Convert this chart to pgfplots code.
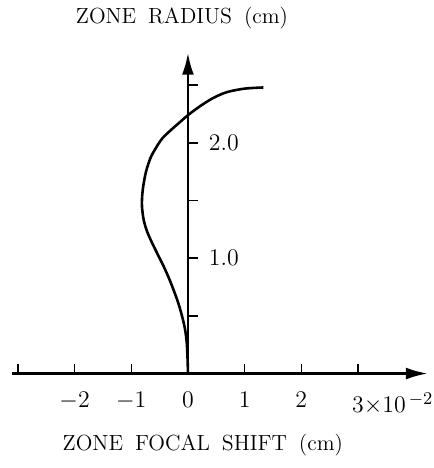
\documentclass[border=0pt]{standalone}
\usepackage{pgfplots}
\pgfplotsset{compat=1.18}
\usetikzlibrary{arrows.meta}
\begin{document}
\begin{tikzpicture}
\begin{axis}[
  x=28.5pt, y=58pt,
  axis lines=middle,
  axis line style={line width=1.2pt, -{Latex[length=11pt,width=6pt]}},
  xmin=-3.1, xmax=4.23, ymin=0, ymax=2.78,
  clip=false,
  tick align=inside,
  major tick length=5pt,
  tick style={black, line width=0.7pt},
  hide obscured x ticks=false,
  xtick={-3,-2,-1,0,1,2,3},
  xticklabels={,$-2$,$-1$,$0$,$1$,$2$,$3\rlap{$\times10^{\,-2}$}$},
  xticklabel style={font=\fontsize{13}{15}\selectfont, yshift=-6pt},
  ytick={0.5,1,1.5,2,2.5},
  yticklabels={,$1.0$,,$2.0$,},
  yticklabel style={font=\fontsize{13}{15}\selectfont, anchor=west, xshift=7pt},
]
\addplot[black, line width=1.3pt, smooth] coordinates {
(0,0) (-0.005,0.10) (-0.02,0.26) (-0.05,0.38) (-0.10,0.49) (-0.17,0.61)
(-0.25,0.72) (-0.33,0.82) (-0.42,0.92) (-0.53,1.03) (-0.63,1.13) (-0.72,1.23)
(-0.78,1.33) (-0.81,1.44) (-0.81,1.52) (-0.79,1.62) (-0.74,1.75) (-0.66,1.87)
(-0.56,1.96) (-0.45,2.04) (-0.28,2.12) (-0.14,2.18) (0,2.24) (0.22,2.32)
(0.45,2.39) (0.69,2.44) (1.0,2.47) (1.33,2.48)
};
\path (axis cs:-3.316,3.216) rectangle (axis cs:4.333,-0.819);
\node[font=\fontsize{11}{13}\selectfont] at (axis cs:-0.105,3.086) {ZONE\hspace{6pt}RADIUS\hspace{6pt}(cm)};
\node[font=\fontsize{11}{13}\selectfont] at (axis cs:0.263,-0.62) {ZONE\hspace{6pt}FOCAL\hspace{6pt}SHIFT\hspace{6pt}(cm)};
\end{axis}
\end{tikzpicture}
\end{document}
